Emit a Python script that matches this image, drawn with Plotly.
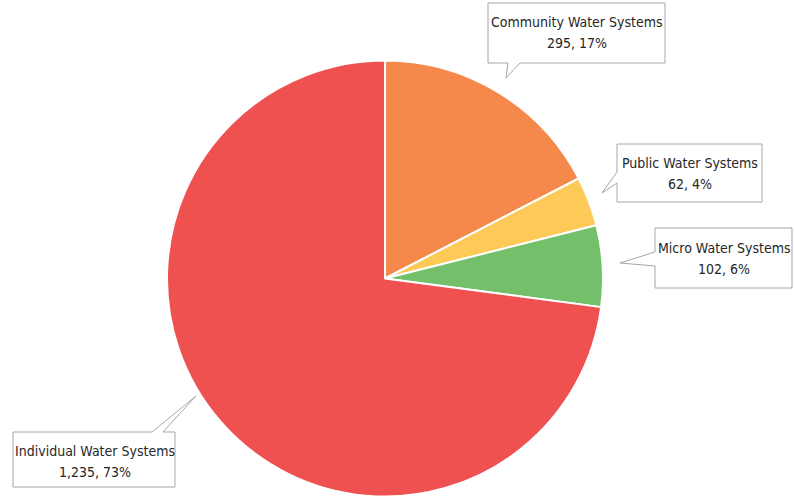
import plotly.graph_objects as go

W, H = 794, 497

categories = ["Community Water Systems", "Public Water Systems", "Micro Water Systems", "Individual Water Systems"]
values = [295, 62, 102, 1235]
label_values = ["295, 17%", "62, 4%", "102, 6%", "1,235, 73%"]
colors = ["#F4894B", "#FECA57", "#74C06A", "#EF5050"]

fig = go.Figure()
fig.add_trace(go.Pie(
    labels=categories, values=values, sort=False, direction="clockwise", rotation=0,
    marker=dict(colors=colors, line=dict(color="white", width=2)),
    textinfo="none", hoverinfo="label+value+percent", showlegend=False,
    domain=dict(x=[167 / W, 603 / W], y=[0, 437 / H]),
))

def px(x, y):
    return f"{x / W:.5f},{1 - y / H:.5f}"

def poly(pts):
    return "M" + " L".join(px(x, y) for x, y in pts) + " Z"

callouts = [
    # polygon points, text center x, line1 y, line2 y
    ([(488, 3), (665, 3), (665, 63), (520, 63), (506, 78), (508, 63), (488, 63)], 577, 22, 43),
    ([(617, 144), (762, 144), (762, 202), (617, 202), (617, 183), (602, 193), (617, 172)], 690, 163, 184),
    ([(655, 228), (792, 228), (792, 288), (655, 288), (655, 266), (620, 263), (655, 252)], 724, 248, 269),
    ([(13, 432), (152, 432), (196, 396), (163, 432), (175, 432), (175, 487), (13, 487)], 95, 451, 472),
]

font_family = "Liberation Sans Narrow, Arial Narrow, DejaVu Sans Condensed, sans-serif"
for (pts, cx, y1, y2), cat, lv in zip(callouts, categories, label_values):
    fig.add_shape(type="path", path=poly(pts), xref="paper", yref="paper",
                  line=dict(color="#A6A6A6", width=1), fillcolor="white", layer="above")
    for txt, yy in ((cat, y1), (lv, y2)):
        fig.add_annotation(x=cx / W, y=1 - yy / H, xref="paper", yref="paper",
                           text=txt, showarrow=False, align="center",
                           xanchor="center", yanchor="middle",
                           font=dict(family=font_family, size=14, color="#262626"))

fig.update_layout(width=W, height=H, margin=dict(l=0, r=0, t=0, b=0),
                  paper_bgcolor="white", plot_bgcolor="white")
fig.write_html("out.html", config={"displayModeBar": False},
               post_script="document.body.style.margin='0px';document.body.style.padding='0px';")
